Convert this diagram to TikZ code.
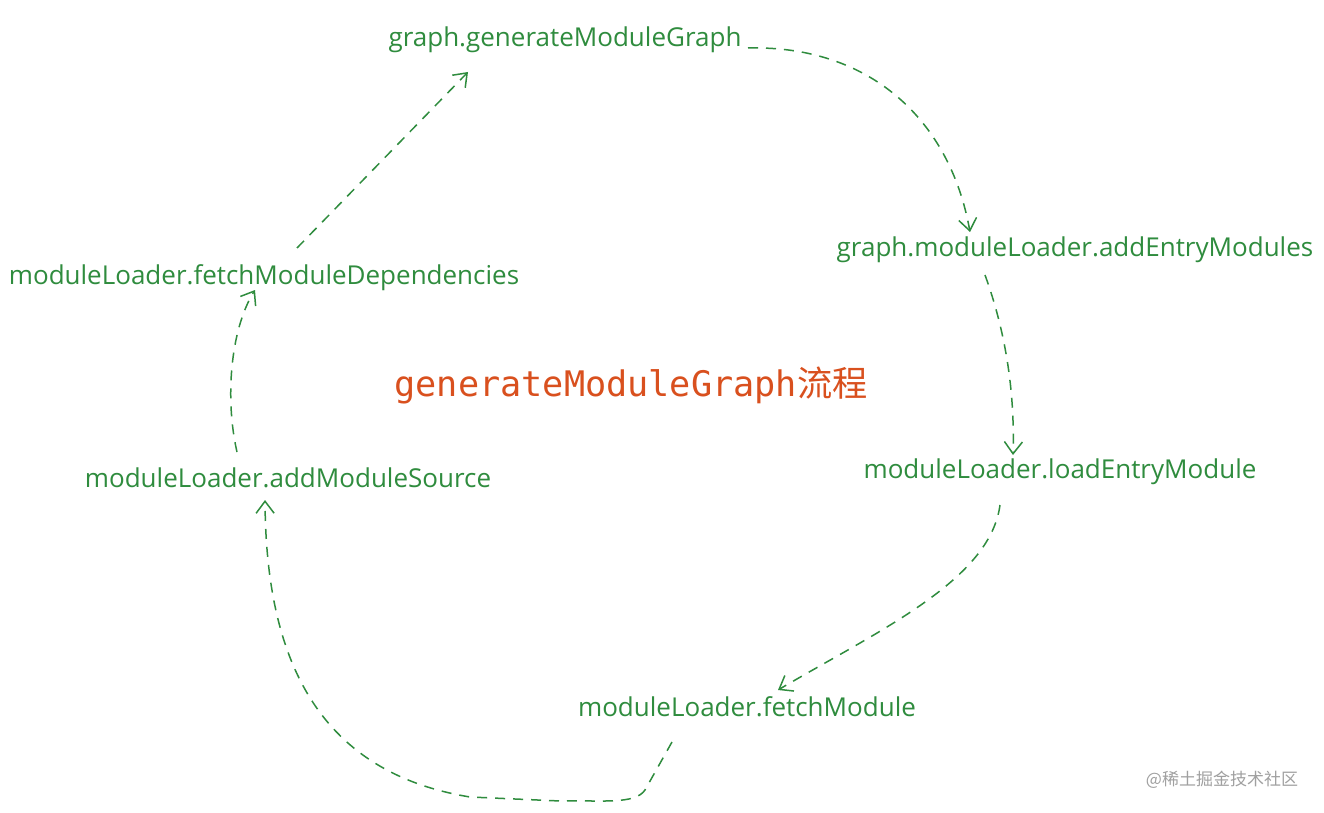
\documentclass[tikz,border=0pt]{standalone}
\usepackage{fontspec}
\newfontfamily\handfont{Open Sans}
\newfontfamily\titlefont{DejaVu Sans Mono}
\newfontfamily\cjk{Noto Sans CJK SC}
\usetikzlibrary{arrows.meta}
\definecolor{flowgreen}{RGB}{47,140,62}
\definecolor{titleorange}{RGB}{217,80,30}
\definecolor{markgray}{RGB}{160,160,160}
\tikzset{
  lbl/.style={inner sep=0pt,text=flowgreen,font=\handfont\fontsize{13}{15}\selectfont},
  flow/.style={draw=flowgreen,line width=.75pt,dash pattern=on 5pt off 4pt,
    -{Straight Barb[length=6pt,width=9pt]}}
}
\begin{document}
\begin{tikzpicture}[x=.5pt,y=-.5pt]
  \useasboundingbox[fill=white] (0,0) rectangle (1324,813);
  \node[lbl] (gen) at (565,40) {graph.generateModuleGraph};
  \node[lbl] (addEntry) at (1075,250) {graph.moduleLoader.addEntryModules};
  \node[lbl] (loadEntry) at (1060,472) {moduleLoader.loadEntryModule};
  \node[lbl] (fetch) at (747,707) {moduleLoader.fetchModule};
  \node[lbl] (addSource) at (288,478) {moduleLoader.addModuleSource};
  \node[lbl] (fetchDeps) at (264,278) {moduleLoader.fetchModuleDependencies};
  \node[inner sep=0pt,text=titleorange,font=\titlefont\fontsize{17.6}{20}\selectfont] (ttl) at (631,385) {generateModuleGraph{\cjk 流程}};
  \node[inner sep=0pt,text=markgray,font=\cjk\fontsize{8.5}{10}\selectfont] (mark) at (1222,780) {@稀土掘金技术社区};
  \draw[flow] ([shift={(183,8)}]gen.center) .. controls (870,45) and (950,120) .. ([shift={(-105,-18)}]addEntry.center);
  \draw[flow] ([shift={(-90,25)}]addEntry.center) .. controls (1005,330) and (1015,390) .. ([shift={(-47,-17)}]loadEntry.center);
  \draw[flow] ([shift={(-60,33)}]loadEntry.center) .. controls (990,580) and (880,630) .. ([shift={(31,-17)}]fetch.center);
  \draw[flow] ([shift={(-75,35)}]fetch.center) -- (645,790) .. controls (635,805) and (600,800) .. (560,801) -- (470,797) .. controls (305,770) and (266,640) .. ([shift={(-23,22)}]addSource.center);
  \draw[flow] ([shift={(-51,-26)}]addSource.center) .. controls (225,400) and (230,330) .. ([shift={(-9,12)}]fetchDeps.center);
  \draw[flow] ([shift={(33,-30)}]fetchDeps.center) -- ([shift={(-97,32)}]gen.center);
\end{tikzpicture}
\end{document}
